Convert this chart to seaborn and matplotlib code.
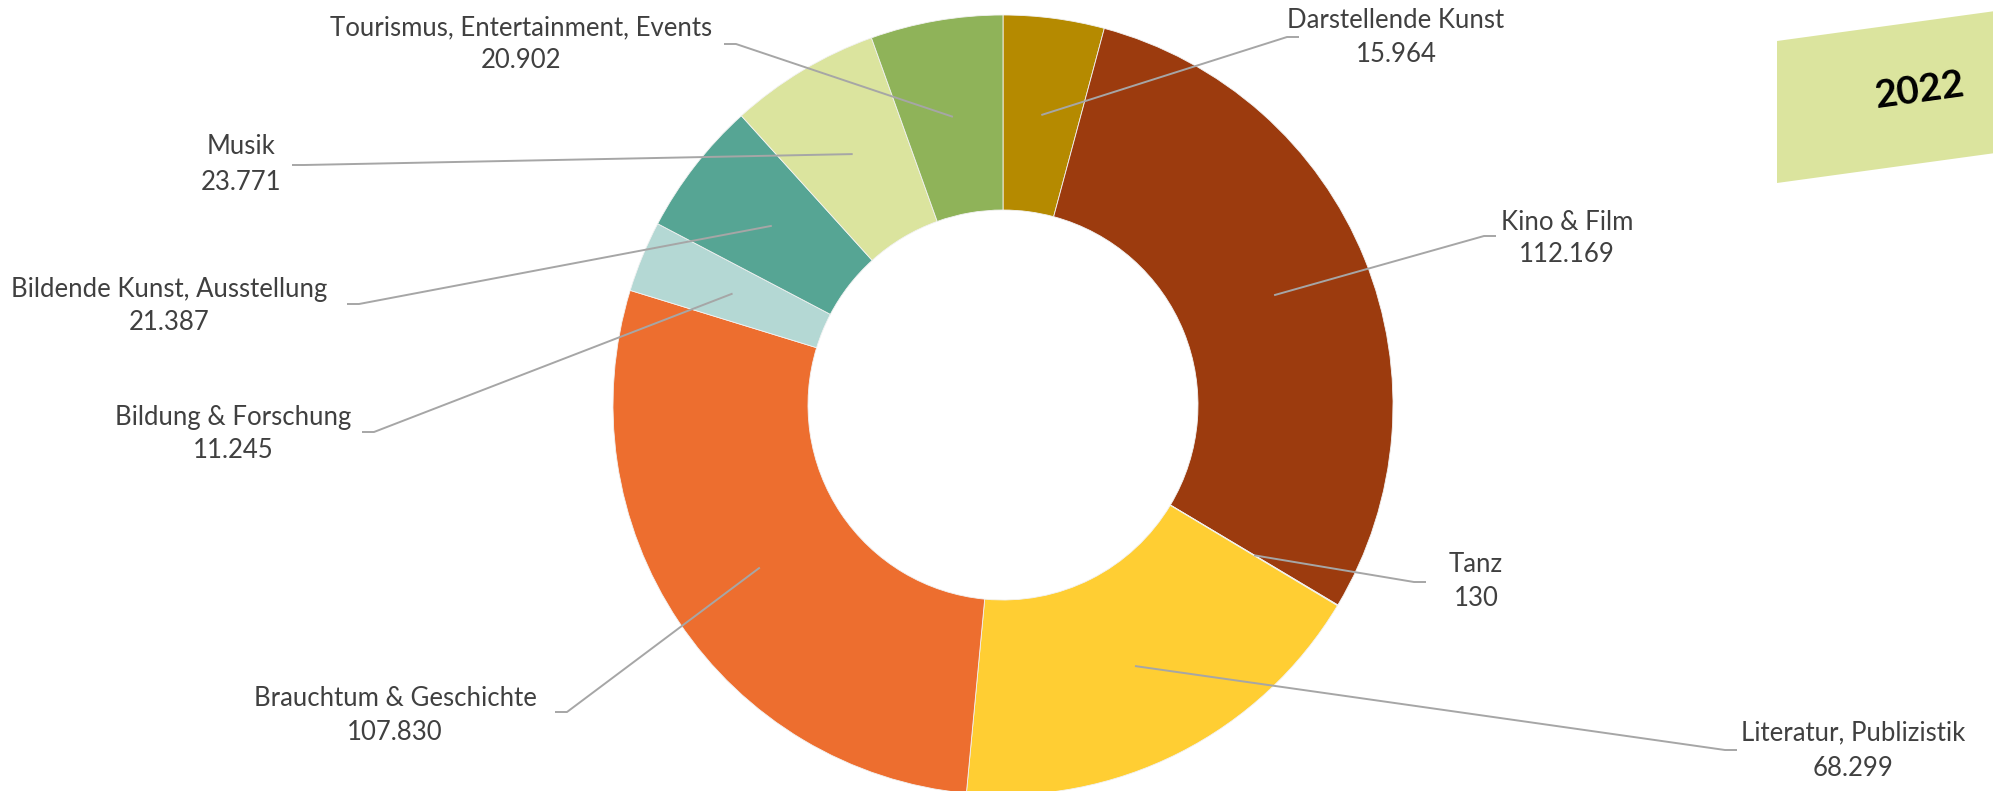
import numpy as np
import matplotlib
matplotlib.use("Agg")
import matplotlib.pyplot as plt
from matplotlib.patches import Polygon
import seaborn as sns

# Categories and values (clockwise from 12 o'clock)
categories = [
    "Darstellende Kunst",
    "Kino & Film",
    "Tanz",
    "Literatur, Publizistik",
    "Brauchtum & Geschichte",
    "Bildung & Forschung",
    "Bildende Kunst, Ausstellung",
    "Musik",
    "Tourismus, Entertainment, Events",
]
values = [15964, 112169, 130, 68299, 107830, 11245, 21387, 23771, 20902]
value_labels = ["15.964", "112.169", "130", "68.299", "107.830",
                "11.245", "21.387", "23.771", "20.902"]
year_label = "2022"

colors = ["#B58A00", "#9C3B0E", "#7FA7B5", "#FFCE33", "#ED6E2F",
          "#B4D8D4", "#56A594", "#DBE49E", "#8FB359"]

sns.set_theme(style="white")
plt.rcParams["font.family"] = ["Lato", "DejaVu Sans"]

W, H = 1993, 791
fig = plt.figure(figsize=(W / 100, H / 100), dpi=100)
ax = fig.add_axes([0, 0, 1, 1])


def Y(y):
    # convert top-down pixel rows to the upward y axis
    return H - y


cx, cy = 1003, Y(405)
r_out, ring = 390, 195

ax.pie(values, colors=colors, startangle=90, counterclock=False,
       radius=r_out, center=(cx, cy),
       wedgeprops=dict(width=ring, edgecolor="#F2F2F2", linewidth=0.6))
ax.set_xlim(0, W)
ax.set_ylim(0, H)
ax.set_aspect("equal")
ax.set_axis_off()

# label placement: (x, name row, value row, leader start x, leader start y)
label_pos = [
    (1396, 20, 55, 1299, 37),
    (1567, 222, 255, 1496, 236),
    (1476, 564, 599, 1426, 582),
    (1853, 733, 768, 1737, 750),
    (395, 698, 732, 555, 712),
    (233, 417, 450, 362, 432),
    (169, 289, 322, 347, 304),
    (241, 147, 183, 292, 165),
    (521, 28, 61, 724, 44),
]

total = float(sum(values))
cum = np.cumsum([0] + values[:-1])
r_mid = r_out - ring / 2
txt_color = "#404040"
line_color = "#A6A6A6"
for i, (name, val) in enumerate(zip(categories, value_labels)):
    mid = np.deg2rad((cum[i] + values[i] / 2) / total * 360)
    px = cx + r_mid * np.sin(mid)
    py = cy + r_mid * np.cos(mid)
    lx, ny, vy, sx, sy = label_pos[i]
    stub = 12 if px > sx else -12
    ax.plot([sx, sx + stub, px], [Y(sy), Y(sy), py],
            color=line_color, lw=1.4, solid_capstyle="butt", zorder=3)
    ax.text(lx, Y(ny), name, ha="center", va="center",
            fontsize=18.5, color=txt_color)
    ax.text(lx, Y(vy), val, ha="center", va="center",
            fontsize=18.5, color=txt_color)

# year badge in the upper right corner
badge = Polygon([(1777, Y(41)), (2010, Y(9)), (2010, Y(151)), (1777, Y(183))],
                closed=True, facecolor="#DBE49E", edgecolor="none")
ax.add_patch(badge)
ax.text(1920, Y(90), year_label, ha="center", va="center", rotation=7.9,
        fontsize=28, fontweight="bold", color="black")

fig.savefig("out.png", dpi=100)
